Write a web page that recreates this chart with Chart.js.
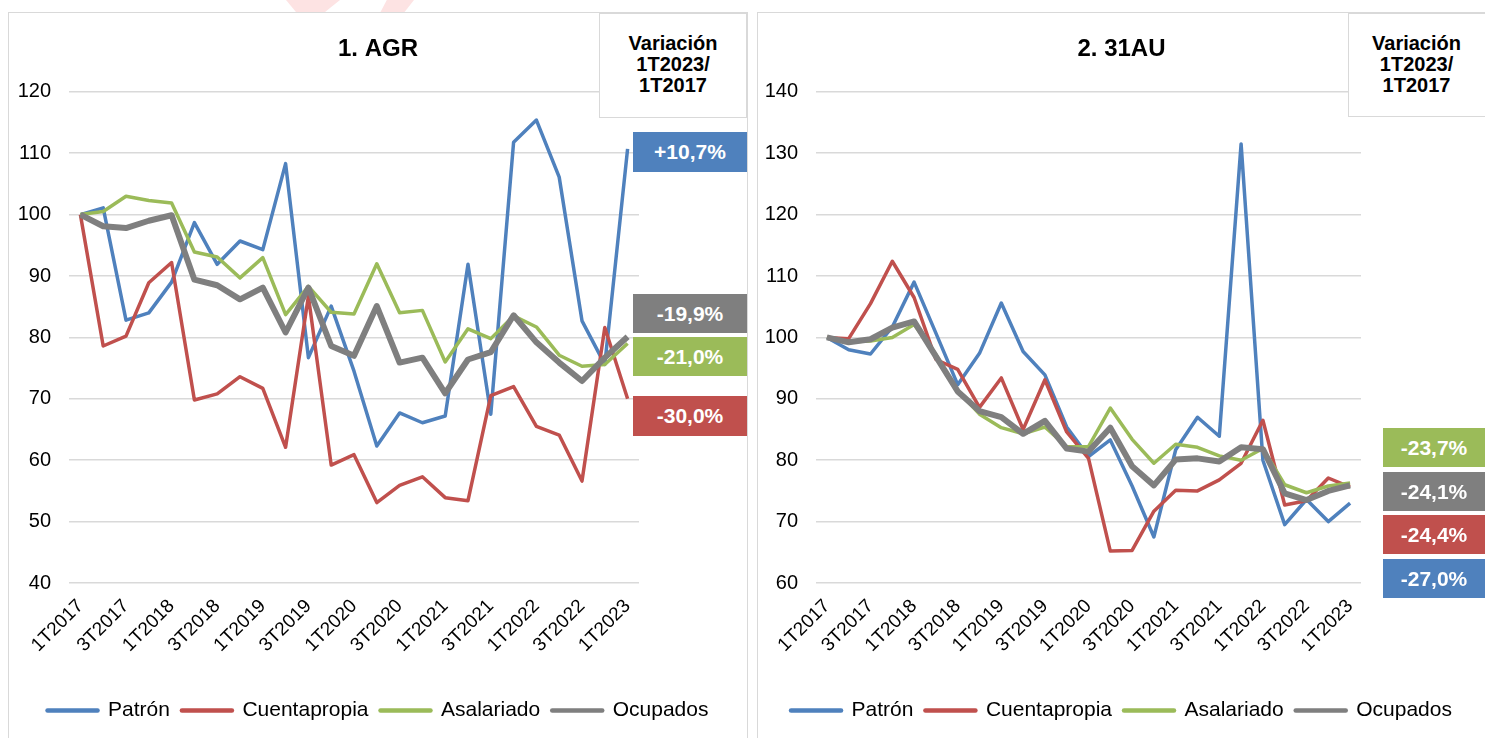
<!DOCTYPE html>
<html>
<head>
<meta charset="utf-8">
<script src="https://cdn.jsdelivr.net/npm/chart.js@4.4.1/dist/chart.umd.min.js"></script>
<style>
  body { margin: 0; background: #fff; font-family: 'Liberation Sans', Arial, sans-serif; }
  .panel { position: absolute; top: 12px; height: 740px; border: 1px solid #d9d9d9; border-bottom: none; }
  .panel canvas { position: absolute; left: 0; top: 0; }
  .varbox { position: absolute; border: 1px solid #d9d9d9; background: #fff; text-align: center;
            font-weight: bold; font-size: 20px; line-height: 21px; color: #000; box-sizing: border-box; padding-top: 19px; }
  .tag { position: absolute; color: #fff; font-weight: bold; font-size: 21px; text-align: center; }
  .mark { position: absolute; top: 0; background: #fde3e3; }
</style>
</head>
<body>
<div class="mark" style="left:286px; width:54px; height:13px; clip-path: polygon(0 0, 100% 0, 70% 100%, 20% 100%);"></div>
<div class="mark" style="left:380px; width:34px; height:13px; clip-path: polygon(20% 0, 100% 0, 70% 100%, 0 100%);"></div>

<div class="panel" id="p1" style="left:8px; width:738px;"><canvas id="agr" width="738" height="725"></canvas></div>
<div class="panel" id="p2" style="left:757px; width:740px;"><canvas id="au" width="727" height="725"></canvas></div>

<div class="varbox" style="left:599px; top:13px; width:148px; height:105px;">Variación<br>1T2023/<br>1T2017</div>
<div class="varbox" style="left:1348px; top:13px; width:145px; height:104px; padding-right:8px;">Variación<br>1T2023/<br>1T2017</div>

<div class="tag" style="left:633px; top:132px; width:114px; height:40px; line-height:40px; background:#4F81BD;">+10,7%</div>
<div class="tag" style="left:633px; top:294px; width:114px; height:39px; line-height:39px; background:#7F7F7F;">-19,9%</div>
<div class="tag" style="left:633px; top:337px; width:114px; height:39px; line-height:39px; background:#9BBB59;">-21,0%</div>
<div class="tag" style="left:633px; top:396px; width:114px; height:40px; line-height:40px; background:#C0504D;">-30,0%</div>

<div class="tag" style="left:1383px; top:428px; width:102px; height:39px; line-height:39px; background:#9BBB59;">-23,7%</div>
<div class="tag" style="left:1383px; top:472px; width:102px; height:39px; line-height:39px; background:#7F7F7F;">-24,1%</div>
<div class="tag" style="left:1383px; top:515px; width:102px; height:39px; line-height:39px; background:#C0504D;">-24,4%</div>
<div class="tag" style="left:1383px; top:559px; width:102px; height:39px; line-height:39px; background:#4F81BD;">-27,0%</div>

<script>
const quarters = ['1T2017', '2T2017', '3T2017', '4T2017', '1T2018', '2T2018', '3T2018', '4T2018',
    '1T2019', '2T2019', '3T2019', '4T2019', '1T2020', '2T2020', '3T2020', '4T2020',
    '1T2021', '2T2021', '3T2021', '4T2021', '1T2022', '2T2022', '3T2022', '4T2022', '1T2023'];

// 1. AGR
const agrPatron = [100, 101.1, 82.8, 84.0, 89.0, 98.7, 91.9, 95.7, 94.3, 108.3, 76.7, 85.1, 74.5,
    62.3, 67.7, 66.1, 67.2, 91.9, 67.5, 111.8, 115.4, 106.1, 82.7, 75.6, 110.7];
const agrCuenta = [100, 78.6, 80.2, 88.9, 92.2, 69.8, 70.8, 73.6, 71.7, 62.1, 86.7, 59.2, 60.9,
    53.1, 55.9, 57.3, 53.9, 53.4, 70.5, 72.0, 65.5, 64.1, 56.6, 81.6, 70.0];
const agrAsal = [100, 100.5, 103.0, 102.3, 101.9, 93.9, 93.1, 89.7, 93.0, 83.7, 88.3, 84.1, 83.8,
    92.0, 84.0, 84.4, 76.0, 81.4, 79.8, 83.5, 81.7, 77.1, 75.3, 75.6, 79.0];
const agrOcup = [100, 98.1, 97.8, 99.0, 99.9, 89.4, 88.5, 86.2, 88.1, 80.8, 88.1, 78.6, 77.0,
    85.1, 75.9, 76.7, 70.9, 76.4, 77.6, 83.6, 79.2, 75.9, 72.9, 76.7, 80.1];

// 2. 31AU
const auPatron = [100, 98.0, 97.3, 101.7, 109.0, 100.7, 92.3, 97.4, 105.6, 97.7, 93.9, 85.4, 80.6,
    83.3, 75.8, 67.5, 81.7, 87.0, 83.9, 131.5, 80.0, 69.5, 73.6, 70.0, 73.0];
const auCuenta = [100, 99.8, 105.5, 112.4, 106.5, 96.4, 94.8, 88.6, 93.4, 85.0, 93.1, 84.6, 80.3,
    65.2, 65.3, 71.7, 75.1, 75.0, 76.8, 79.5, 86.5, 72.7, 73.4, 77.1, 75.6];
const auAsal = [100, 99.3, 99.4, 100.0, 102.1, 97.2, 91.3, 87.5, 85.3, 84.3, 85.4, 82.2, 82.2,
    88.5, 83.4, 79.5, 82.6, 82.1, 80.7, 80.0, 81.9, 76.0, 74.7, 75.8, 76.3];
const auOcup = [100, 99.2, 99.7, 101.6, 102.6, 96.9, 91.2, 88.0, 87.0, 84.3, 86.4, 81.9, 81.4,
    85.3, 79.0, 75.9, 80.1, 80.3, 79.8, 82.1, 81.8, 74.6, 73.5, 75.0, 75.9];

const seriesNames = ['Patrón', 'Cuentapropia', 'Asalariado', 'Ocupados'];
const seriesColors = ['#4F81BD', '#C0504D', '#9BBB59', '#7F7F7F'];
const seriesWidths = [3.5, 3.5, 3.5, 6];

const FONT = "'Liberation Sans', Arial, sans-serif";

function makeChart(canvasId, title, values, yMin, yMax, leftW, rightW) {
    // datasets reversed so Ocupados is drawn on top, legend reversed back
    const datasets = [];
    for (let i = values.length - 1; i >= 0; i--) {
        datasets.push({
            label: seriesNames[i],
            data: values[i],
            borderColor: seriesColors[i],
            backgroundColor: seriesColors[i],
            borderWidth: seriesWidths[i],
            pointRadius: 0,
            tension: 0,
            borderJoinStyle: 'round'
        });
    }

    return new Chart(document.getElementById(canvasId), {
        type: 'line',
        data: { labels: quarters, datasets: datasets },
        options: {
            responsive: false,
            animation: false,
            layout: { padding: { top: 0, bottom: 7, left: 0, right: 0 } },
            plugins: {
                title: {
                    display: true,
                    text: title,
                    color: '#000',
                    font: { family: FONT, size: 24, weight: 'bold' },
                    padding: { top: 22, bottom: 28 }
                },
                legend: {
                    position: 'bottom',
                    reverse: true,
                    labels: {
                        color: '#000',
                        font: { family: FONT, size: 21 },
                        usePointStyle: true,
                        pointStyle: 'line',
                        pointStyleWidth: 50,
                        padding: 12,
                        generateLabels: chart => Chart.defaults.plugins.legend.labels.generateLabels(chart)
                            .map(l => Object.assign(l, { lineWidth: 4.5, lineCap: 'round', pointStyle: 'line' }))
                    }
                },
                tooltip: { enabled: false }
            },
            scales: {
                x: {
                    offset: true,
                    grid: { display: false },
                    border: { display: false },
                    ticks: {
                        color: '#000',
                        font: { family: FONT, size: 19 },
                        autoSkip: false,
                        maxRotation: 45,
                        minRotation: 45,
                        padding: 4,
                        callback: (v, i) => i % 2 === 0 ? quarters[i] : ''
                    },
                    afterFit: s => { s.height = 105; }
                },
                y: {
                    min: yMin,
                    max: yMax,
                    grid: { color: '#d9d9d9', lineWidth: 1.5, drawTicks: false },
                    border: { display: false },
                    ticks: {
                        stepSize: 10,
                        color: '#000',
                        font: { family: FONT, size: 20 },
                        padding: 18
                    },
                    afterFit: s => { s.width = leftW; }
                },
                pad: {
                    type: 'linear',
                    position: 'right',
                    grid: { display: false },
                    border: { display: false },
                    ticks: { display: false },
                    afterFit: s => { s.width = rightW; }
                }
            }
        }
    });
}

makeChart('agr', '1. AGR', [agrPatron, agrCuenta, agrAsal, agrOcup], 40, 120, 60, 108);
makeChart('au', '2. 31AU', [auPatron, auCuenta, auAsal, auOcup], 60, 140, 58, 124);
</script>
</body>
</html>
